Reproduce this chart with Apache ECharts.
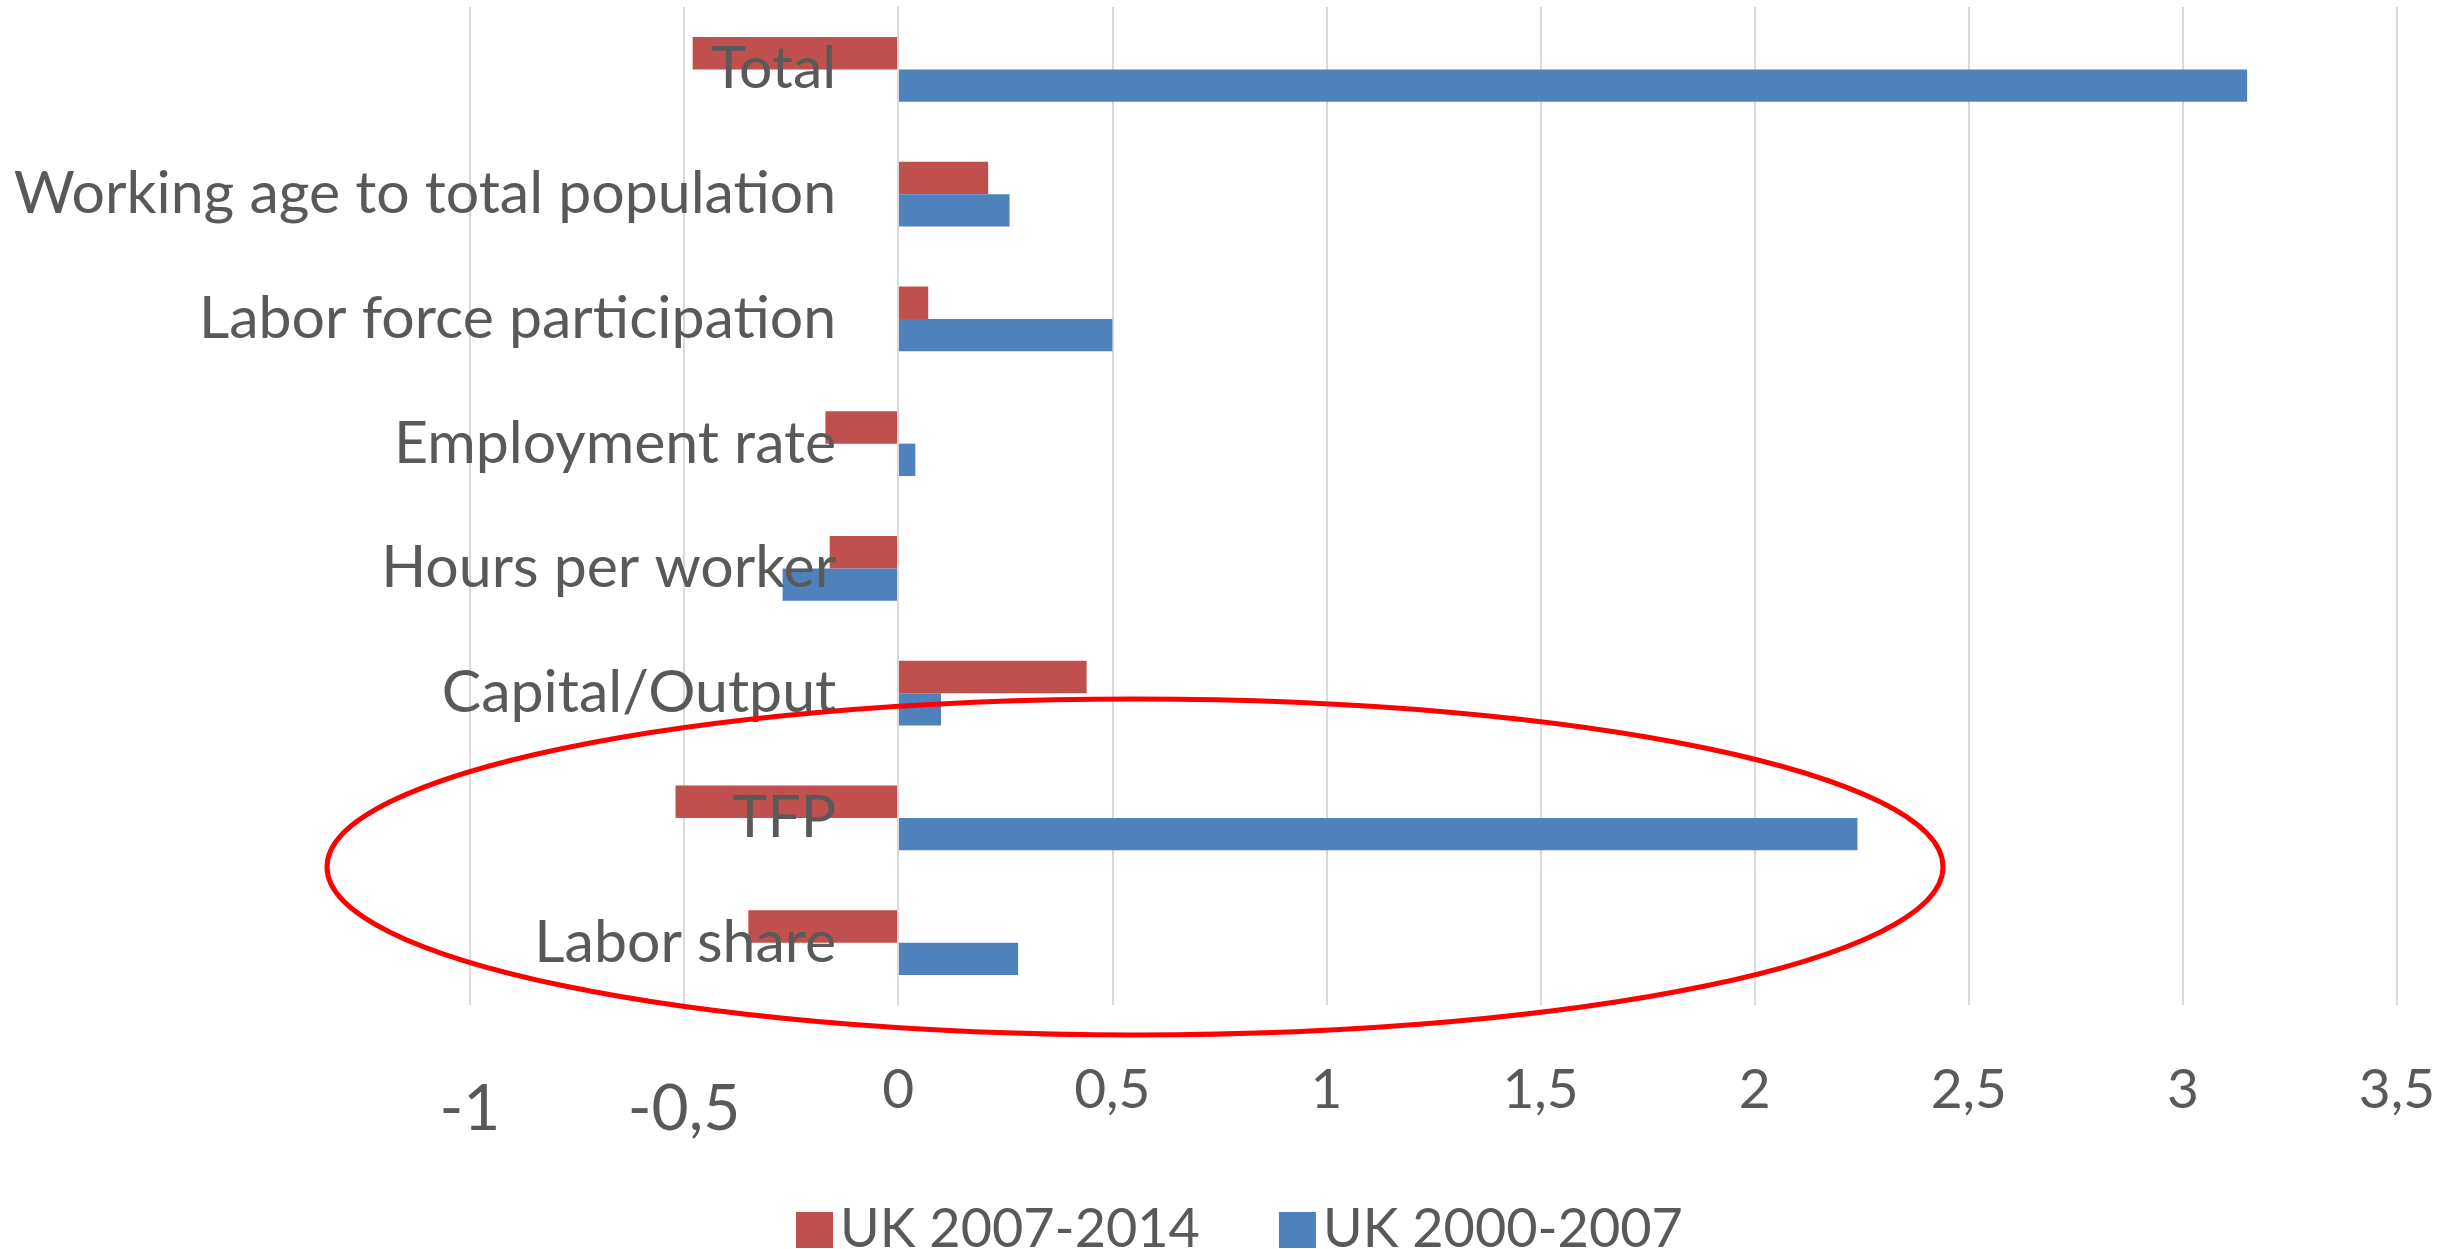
<!DOCTYPE html>
<html>
<head>
<meta charset="utf-8">
<script src="https://cdn.jsdelivr.net/npm/echarts@6/dist/echarts.min.js"></script>
<style>
  html, body { margin: 0; padding: 0; background: #fff; }
  #chart { width: 2463px; height: 1249px; }
</style>
</head>
<body>
<div id="chart"></div>
<script>
const categories = [
  'Total',
  'Working age to total population',
  'Labor force participation',
  'Employment rate',
  'Hours per worker',
  'Capital/Output',
  'TFP',
  'Labor share',
]
const uk0714 = [-0.48, 0.21, 0.07, -0.17, -0.16, 0.44, -0.52, -0.35]
const uk0007 = [3.15, 0.26, 0.5, 0.04, -0.27, 0.1, 2.24, 0.28]
const xTicks = { min: -1, max: 3.5, step: 0.5 }

const textColor = '#595959'
const font = 'Lato'

// grid geometry, the category axis sits on the zero line
const gridLeft = 470
const gridRight = 66
const plotWidth = 2463 - gridLeft - gridRight
const zeroShift = plotWidth * (0 - xTicks.min) / (xTicks.max - xTicks.min)

const chart = echarts.init(document.getElementById('chart'))
chart.setOption({
  animation: false,
  color: ['#C0504D', '#4F81BD'],
  textStyle: { fontFamily: font, color: textColor },
  grid: {
    left: gridLeft,
    right: gridRight,
    top: 7,
    bottom: 244,
    containLabel: false,
    outerBoundsMode: 'none',
  },
  legend: {
    left: 791,
    top: 1198,
    itemWidth: 37,
    itemHeight: 36,
    itemGap: 79,
    icon: 'rect',
    textStyle: { fontFamily: font, fontSize: 54, color: textColor, padding: [0, 0, 0, 2] },
    data: ['UK 2007-2014', 'UK 2000-2007'],
  },
  xAxis: {
    type: 'value',
    min: xTicks.min,
    max: xTicks.max,
    interval: xTicks.step,
    axisLine: { show: false },
    axisTick: { show: false },
    splitLine: { lineStyle: { color: '#D9D9D9', width: 2 } },
    axisLabel: {
      margin: 58,
      formatter: (v) => {
        const s = String(v).replace('.', ',')
        return v < 0 ? '{neg|' + s + '}' : '{pos|' + s + '}'
      },
      rich: {
        pos: { fontFamily: font, fontSize: 55, color: textColor },
        neg: { fontFamily: font, fontSize: 64, color: textColor, padding: [14, 0, 0, 0] },
      },
    },
  },
  yAxis: {
    type: 'category',
    inverse: true,
    data: categories,
    z: 10,
    offset: -zeroShift,
    axisLine: { onZero: false, lineStyle: { color: '#D9D9D9', width: 2 } },
    axisTick: { show: false },
    splitLine: { show: false },
    axisLabel: { margin: 62, fontFamily: font, fontSize: 59, color: textColor },
  },
  series: [
    {
      name: 'UK 2007-2014',
      type: 'bar',
      data: uk0714,
      barGap: '0%',
      barCategoryGap: '48%',
    },
    {
      name: 'UK 2000-2007',
      type: 'bar',
      data: uk0007,
      barGap: '0%',
      barCategoryGap: '48%',
    },
  ],
  graphic: [
    {
      type: 'ellipse',
      z: 100,
      shape: { cx: 1135, cy: 867, rx: 808, ry: 168 },
      style: { fill: 'none', stroke: '#FF0000', lineWidth: 5 },
    },
  ],
})
</script>
</body>
</html>
